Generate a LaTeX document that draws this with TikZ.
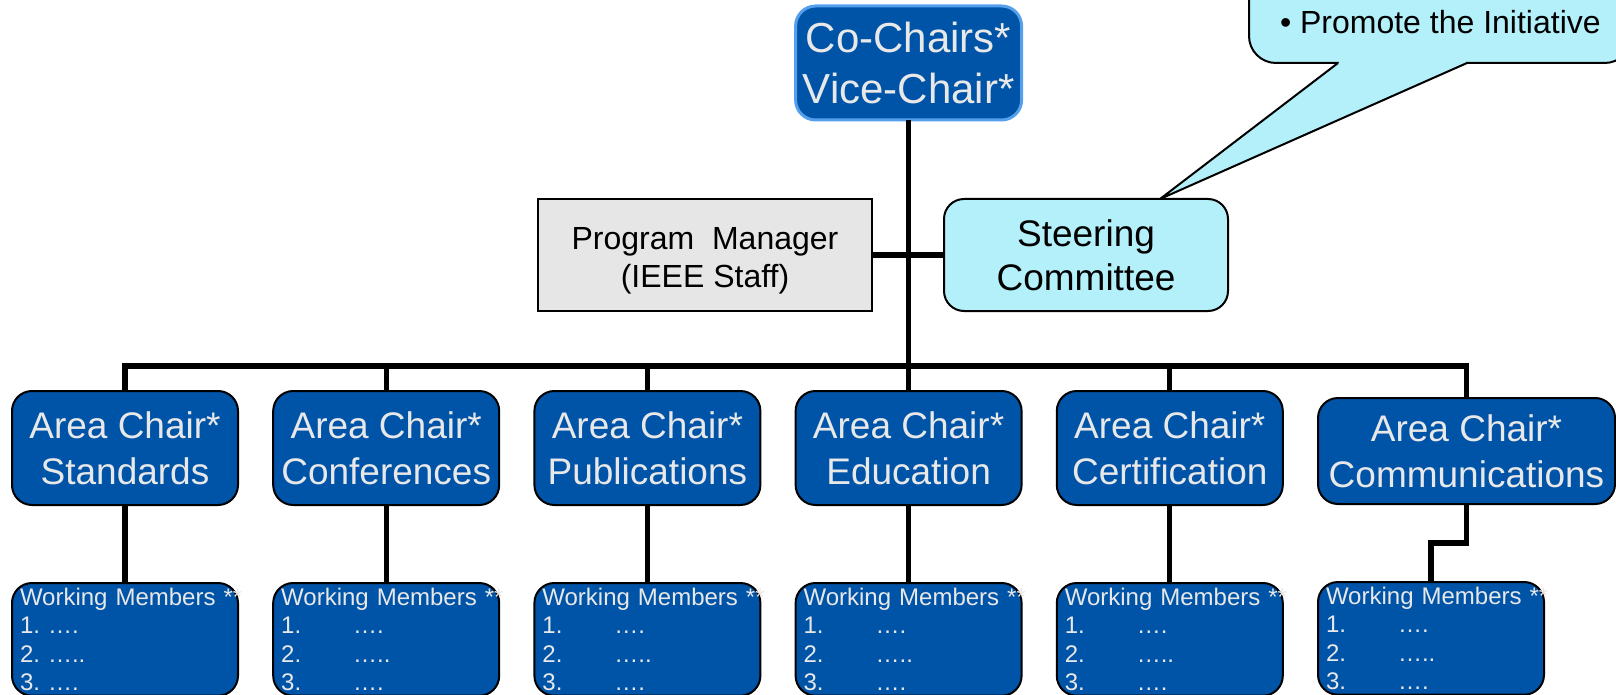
\documentclass[tikz,border=0pt]{standalone}
\usepackage{fontspec}
\setmainfont{Liberation Sans}
\usetikzlibrary{positioning}

\definecolor{chairblue}{RGB}{0,84,168}
\definecolor{chairedge}{RGB}{84,160,236}
\definecolor{paletext}{RGB}{232,232,232}
\definecolor{steercyan}{RGB}{180,240,250}
\definecolor{staffgray}{RGB}{230,230,230}

\newcommand{\wmrow}[2]{\makebox[36pt][l]{#1}#2}
\newcommand{\wmlist}{\mbox{Working Members **}\\\wmrow{1.}{….}\\\wmrow{2.}{…..}\\\wmrow{3.}{….}}

\begin{document}
\begin{tikzpicture}[x=0.5pt, y=-0.5pt, node distance=17.6pt,
  every node/.style={outer sep=0pt},
  area/.style={draw, line width=1pt, rounded corners=10pt, fill=chairblue, text=paletext,
    minimum width=113pt, minimum height=57pt, inner sep=0pt, align=center,
    font=\fontsize{18.5}{23}\selectfont},
  lead/.style={area, draw=chairedge, line width=1.5pt, font=\fontsize{21}{25.5}\selectfont},
  members/.style={draw, line width=1pt, rounded corners=10pt, fill=chairblue, text=paletext,
    text width=105pt, inner xsep=4pt, inner ysep=2.4pt, align=left,
    font=\fontsize{12}{14.25}\selectfont},
  steer/.style={draw, line width=1pt, rounded corners=10pt, fill=steercyan,
    minimum width=142pt, minimum height=56pt, inner sep=0pt, align=center,
    font=\fontsize{18.5}{22}\selectfont},
  staff/.style={draw, line width=1pt, fill=staffgray, minimum width=167pt, minimum height=56pt,
    inner sep=0pt, align=center, font=\fontsize{16}{19}\selectfont},
  notebox/.style={draw, line width=1pt, rounded corners=13.5pt, fill=steercyan,
    inner xsep=15.5pt, inner ysep=0pt, text height=40pt, text depth=14.5pt,
    font=\fontsize{16}{19}\selectfont},
  link/.style={line width=2.6pt}]
\path[use as bounding box, clip] (0,0) rectangle (1616,695);

% area chairs
\node (std) [area] at (125,448) {Area Chair*\\Standards};
\node (conf) [area, right=of std] {Area Chair*\\Conferences};
\node (pub) [area, right=of conf] {Area Chair*\\Publications};
\node (edu) [area, right=of pub] {Area Chair*\\Education};
\node (cert) [area, right=of edu] {Area Chair*\\Certification};
\node (comm) [area, right=of cert, yshift=-1.5pt, minimum width=148.5pt, minimum height=53pt] {Area Chair*\\Communications};

% top of the chart
\node (chairs) [lead, above=135.5pt of edu] {Co-Chairs*\\Vice-Chair*};
\node (sc) [steer] at (1086,255) {Steering\\Committee};
\node (pm) [staff, left=36pt of sc] {\rule{0pt}{17pt}Program~~Manager\\(IEEE Staff)};

% working members
\node (wstd) [members, below=39pt of std] {\mbox{Working Members **}\\1.\ ….\\2.\ …..\\3.\ ….};
\node (wconf) [members, below=39pt of conf] {\wmlist};
\node (wpub) [members, below=39pt of pub] {\wmlist};
\node (wedu) [members, below=39pt of edu] {\wmlist};
\node (wcert) [members, below=39pt of cert] {\wmlist};
\node (wcomm) [members, below=39pt of comm.south west, anchor=north west] {\wmlist};

% callout
\node (note) [notebox, anchor=base west] at (1249,34) {• Promote the Initiative\hspace{24pt}};
\coordinate (tip) at ([xshift=-34pt]sc.north east);
\fill[steercyan] ([xshift=45pt,yshift=0.8pt]note.south west) rectangle ([xshift=108.5pt,yshift=-0.8pt]note.south west);
\filldraw[fill=steercyan, line width=1pt, line join=round] ([xshift=44.5pt]note.south west) -- (tip) -- ([xshift=109pt]note.south west);

% connectors
\coordinate (bus) at (0,366);
\draw[link] (chairs.south) -- (chairs.south |- bus);
\draw[link] (pm.east) -- (sc.west);
\draw[link] (std.north) |- (comm.north |- bus) -- (comm.north);
\foreach \n in {conf,pub,edu,cert}
  \draw[link] (\n.north) -- (\n.north |- bus);
\foreach \n in {std,conf,pub,edu,cert}
  \draw[link] (\n.south) -- (w\n.north);
\draw[link] (comm.south) -- ++(0,39) -| (wcomm.north);
\end{tikzpicture}
\end{document}
